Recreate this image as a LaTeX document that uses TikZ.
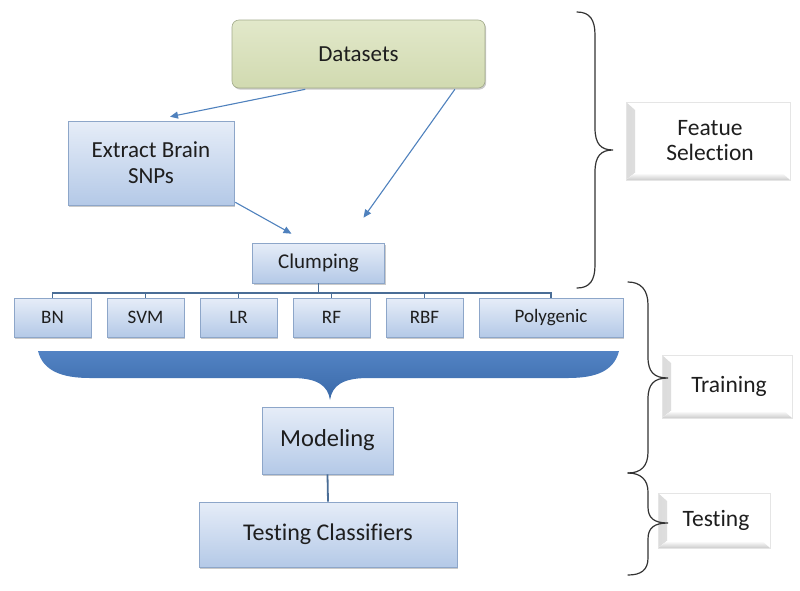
\documentclass[tikz,border=0pt]{standalone}
\usepackage{fontspec}
\setmainfont{Carlito}[Ligatures=NoCommon]
\usetikzlibrary{arrows.meta,shadows,calc}
\definecolor{boxtop}{HTML}{E6EDF8}
\definecolor{boxbot}{HTML}{B4C9E7}
\definecolor{boxline}{HTML}{8DA6C9}
\definecolor{dstop}{HTML}{E2E8CA}
\definecolor{dsbot}{HTML}{D1DAB0}
\definecolor{dsline}{HTML}{A2AA8A}
\definecolor{arrowc}{HTML}{4F81BD}
\definecolor{treec}{HTML}{4A6D96}
\definecolor{brtop}{HTML}{5283C4}
\definecolor{brmid}{HTML}{86AADA}
\definecolor{brbot}{HTML}{3A69A8}
\definecolor{txt}{HTML}{1E1E1E}
\begin{document}
\begin{tikzpicture}[x=1pt,y=-1pt,
  bluebox/.style={draw=boxline, line width=0.6pt, top color=boxtop, bottom color=boxbot,
    drop shadow={shadow xshift=1.2pt, shadow yshift=-1.6pt, opacity=0.35, fill=black!60},
    align=center, inner sep=0pt, text=txt},
  dsbox/.style={draw=dsline, line width=0.6pt, rounded corners=7pt, top color=dstop, bottom color=dsbot,
    drop shadow={shadow xshift=1.2pt, shadow yshift=-1.6pt, opacity=0.35, fill=black!60},
    align=center, inner sep=0pt, text=txt},
  bevel/.style={draw=black!10, line width=0.6pt, fill=white, align=center, inner sep=0pt, text=txt,
    path picture={
      \fill[left color=black!14, right color=white]
        (path picture bounding box.north west) -- ([xshift=9pt,yshift=-8pt]path picture bounding box.north west)
        -- ([xshift=9pt,yshift=7pt]path picture bounding box.south west) -- (path picture bounding box.south west) -- cycle;
      \fill[bottom color=black!20, top color=white]
        (path picture bounding box.south west) -- ([xshift=9pt,yshift=7pt]path picture bounding box.south west)
        -- ([xshift=-8pt,yshift=7pt]path picture bounding box.south east) -- (path picture bounding box.south east) -- cycle;
    }},
  flow/.style={draw=arrowc, line width=1.1pt, -{Triangle[length=8pt,width=7pt]}},
  tree/.style={draw=treec, line width=1.8pt},
  brace/.style={draw=black!80, line width=1.2pt, line cap=round}
]
\useasboundingbox (0,0) rectangle (800,590);

% main flow nodes
\node[dsbox, minimum width=253pt, minimum height=68pt, font=\fontsize{23}{27}\selectfont] (ds) at (358.5,54) {Datasets};
\node[bluebox, minimum width=166pt, minimum height=84pt, font=\fontsize{23}{26}\selectfont] (ext) at (151,163) {Extract Brain\\SNPs};
\node[bluebox, minimum width=132pt, minimum height=40pt, font=\fontsize{21}{24}\selectfont] (clump) at (318.5,263) {Clumping};

\foreach \n/\t/\x in {bn/BN/52.5, svm/SVM/145.5, lr/LR/238.5, rf/RF/331.5, rbf/RBF/424.5}{
  \node[bluebox, minimum width=77pt, minimum height=39pt, font=\fontsize{19}{22}\selectfont] (\n) at (\x,317.5) {\t};
}
\node[bluebox, minimum width=144pt, minimum height=39pt, font=\fontsize{19}{22}\selectfont] (poly) at (551,317.5) {Polygenic};

\node[bluebox, minimum width=131pt, minimum height=67pt, font=\fontsize{24.5}{28}\selectfont] (model) at (327.5,440.5) {Modeling};
\node[bluebox, minimum width=258pt, minimum height=65pt, font=\fontsize{24}{28}\selectfont] (test) at (328,534.5) {Testing Classifiers};

% right labels
\node[bevel, minimum width=164pt, minimum height=78pt, font=\fontsize{23.5}{25}\selectfont] (feat) at (708,141) {\hspace*{4pt}Featue\\\hspace*{4pt}Selection};
\node[bevel, minimum width=130pt, minimum height=63pt, font=\fontsize{23.5}{26}\selectfont] (train) at (727,386.5) {\hspace*{4pt}Training};
\node[bevel, minimum width=112pt, minimum height=55pt, font=\fontsize{23.5}{26}\selectfont] (testl) at (714,520.5) {\hspace*{4pt}Testing};

% arrows
\coordinate (c1) at ($(clump.north)+(45,-25)$);
\coordinate (c2) at ($(clump.north)+(-27,-9)$);
\coordinate (e1) at ($(ext.north)+(19,-4)$);
\draw[flow] ($(ds.south west)!0.29!(ds.south east)+(0,1)$) -- (e1);
\draw[flow] ($(ds.south west)!0.88!(ds.south east)+(0,1)$) -- (c1);
\draw[flow] ($(ext.south east)+(1,-3)$) -- (c2);

% tree
\foreach \n in {bn,svm,lr,rf,rbf,poly}{
  \draw[tree] (clump.south) -- ++(0,10) -| (\n.north);
}
\draw[tree] (model.south) -- (test.north);

% big blue brace
\shade[top color=brtop, middle color=brmid, bottom color=brbot]
  (38,351) -- (619,351)
  .. controls (614,371) and (596,378) .. (568,378) -- (368,378)
  .. controls (342,378) and (332,386) .. (330,400)
  .. controls (328,386) and (318,378) .. (292,378) -- (90,378)
  .. controls (62,378) and (43,371) .. (38,351) -- cycle;

% right braces
\draw[brace] (577,12) .. controls (590,12) and (595,20) .. (595,35) -- (595,128)
  .. controls (595,144) and (601,150) .. (613,150)
  .. controls (601,150) and (595,156) .. (595,172) -- (595,265)
  .. controls (595,280) and (590,288) .. (577,288);
\draw[brace] (628,282) .. controls (641,282) and (648,290) .. (648,305) -- (648,357)
  .. controls (648,372) and (654,378) .. (668,378)
  .. controls (654,378) and (648,384) .. (648,399) -- (648,452)
  .. controls (648,466) and (641,473) .. (628,473);
\draw[brace] (628,473) .. controls (641,473) and (648,480) .. (648,492) -- (648,507)
  .. controls (648,518) and (654,523) .. (668,523)
  .. controls (654,523) and (648,528) .. (648,539) -- (648,558)
  .. controls (648,570) and (641,575) .. (628,575);
\end{tikzpicture}
\end{document}
